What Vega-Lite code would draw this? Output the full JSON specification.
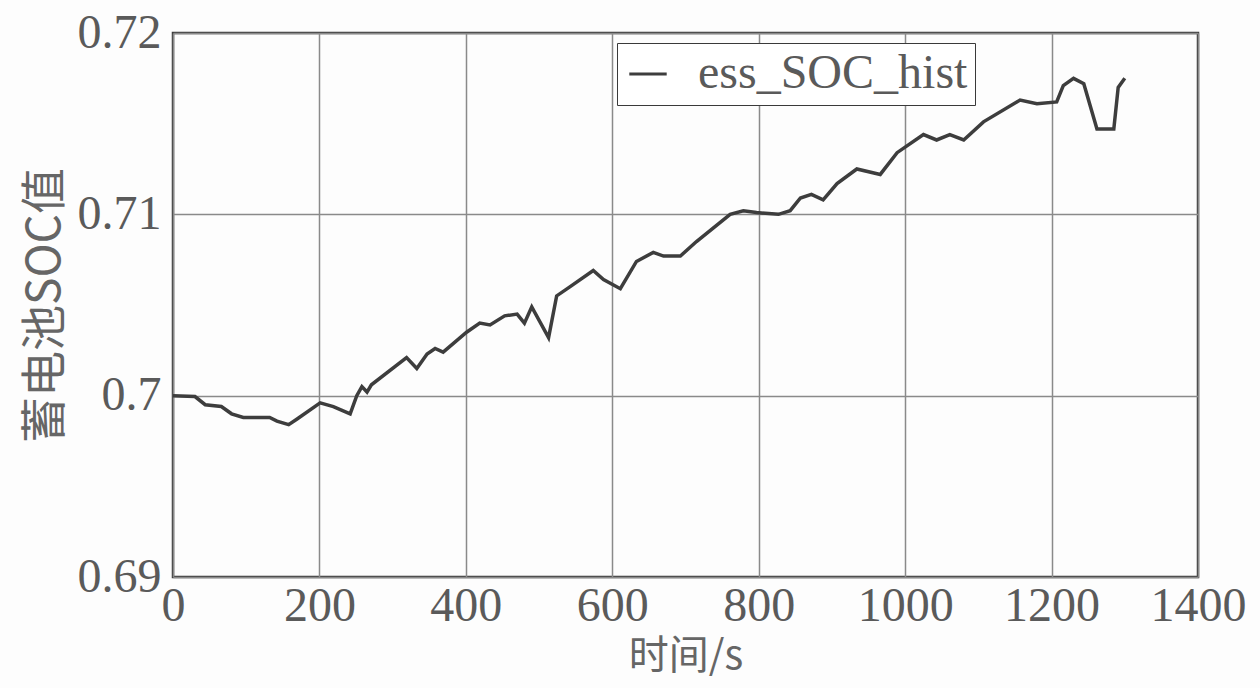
{
  "$schema": "https://vega.github.io/schema/vega-lite/v6.json",
  "width": 1025,
  "height": 544,
  "autosize": {"type": "none"},
  "padding": {"left": 173, "top": 33, "right": 62, "bottom": 111},
  "background": "#fdfdfd",
  "config": {
    "view": {"stroke": "#3a3a3a", "strokeWidth": 2.5},
    "axis": {
      "grid": true,
      "gridColor": "#8a8a8a",
      "gridWidth": 1.5,
      "domain": false,
      "ticks": false,
      "labelFont": "Liberation Serif",
      "labelFontSize": 48,
      "labelColor": "#5a5a5a",
      "titleFont": "Noto Sans CJK SC",
      "titleFontSize": 44,
      "titleFontWeight": "normal",
      "titleColor": "#666666"
    }
  },
  "data": {
    "values": [
      {"t": 0, "v": 0.7000, "s": "ess_SOC_hist"},
      {"t": 30, "v": 0.69995, "s": "ess_SOC_hist"},
      {"t": 44, "v": 0.6995, "s": "ess_SOC_hist"},
      {"t": 66, "v": 0.6994, "s": "ess_SOC_hist"},
      {"t": 80, "v": 0.6990, "s": "ess_SOC_hist"},
      {"t": 96, "v": 0.6988, "s": "ess_SOC_hist"},
      {"t": 132, "v": 0.6988, "s": "ess_SOC_hist"},
      {"t": 142, "v": 0.6986, "s": "ess_SOC_hist"},
      {"t": 158, "v": 0.6984, "s": "ess_SOC_hist"},
      {"t": 169, "v": 0.6987, "s": "ess_SOC_hist"},
      {"t": 201, "v": 0.6996, "s": "ess_SOC_hist"},
      {"t": 219, "v": 0.6994, "s": "ess_SOC_hist"},
      {"t": 242, "v": 0.6990, "s": "ess_SOC_hist"},
      {"t": 251, "v": 0.7000, "s": "ess_SOC_hist"},
      {"t": 258, "v": 0.7005, "s": "ess_SOC_hist"},
      {"t": 265, "v": 0.7002, "s": "ess_SOC_hist"},
      {"t": 271, "v": 0.7006, "s": "ess_SOC_hist"},
      {"t": 319, "v": 0.7021, "s": "ess_SOC_hist"},
      {"t": 333, "v": 0.7015, "s": "ess_SOC_hist"},
      {"t": 347, "v": 0.7023, "s": "ess_SOC_hist"},
      {"t": 358, "v": 0.7026, "s": "ess_SOC_hist"},
      {"t": 369, "v": 0.7024, "s": "ess_SOC_hist"},
      {"t": 401, "v": 0.7035, "s": "ess_SOC_hist"},
      {"t": 419, "v": 0.7040, "s": "ess_SOC_hist"},
      {"t": 433, "v": 0.7039, "s": "ess_SOC_hist"},
      {"t": 453, "v": 0.7044, "s": "ess_SOC_hist"},
      {"t": 470, "v": 0.7045, "s": "ess_SOC_hist"},
      {"t": 480, "v": 0.7040, "s": "ess_SOC_hist"},
      {"t": 490, "v": 0.7049, "s": "ess_SOC_hist"},
      {"t": 513, "v": 0.7032, "s": "ess_SOC_hist"},
      {"t": 524, "v": 0.7055, "s": "ess_SOC_hist"},
      {"t": 542, "v": 0.7060, "s": "ess_SOC_hist"},
      {"t": 574, "v": 0.7069, "s": "ess_SOC_hist"},
      {"t": 588, "v": 0.7064, "s": "ess_SOC_hist"},
      {"t": 611, "v": 0.7059, "s": "ess_SOC_hist"},
      {"t": 633, "v": 0.7074, "s": "ess_SOC_hist"},
      {"t": 656, "v": 0.7079, "s": "ess_SOC_hist"},
      {"t": 670, "v": 0.7077, "s": "ess_SOC_hist"},
      {"t": 693, "v": 0.7077, "s": "ess_SOC_hist"},
      {"t": 715, "v": 0.7085, "s": "ess_SOC_hist"},
      {"t": 761, "v": 0.7100, "s": "ess_SOC_hist"},
      {"t": 779, "v": 0.7102, "s": "ess_SOC_hist"},
      {"t": 797, "v": 0.7101, "s": "ess_SOC_hist"},
      {"t": 827, "v": 0.7100, "s": "ess_SOC_hist"},
      {"t": 843, "v": 0.7102, "s": "ess_SOC_hist"},
      {"t": 857, "v": 0.7109, "s": "ess_SOC_hist"},
      {"t": 872, "v": 0.7111, "s": "ess_SOC_hist"},
      {"t": 888, "v": 0.7108, "s": "ess_SOC_hist"},
      {"t": 907, "v": 0.7117, "s": "ess_SOC_hist"},
      {"t": 934, "v": 0.7125, "s": "ess_SOC_hist"},
      {"t": 966, "v": 0.7122, "s": "ess_SOC_hist"},
      {"t": 989, "v": 0.7134, "s": "ess_SOC_hist"},
      {"t": 1025, "v": 0.7144, "s": "ess_SOC_hist"},
      {"t": 1043, "v": 0.7141, "s": "ess_SOC_hist"},
      {"t": 1061, "v": 0.7144, "s": "ess_SOC_hist"},
      {"t": 1080, "v": 0.7141, "s": "ess_SOC_hist"},
      {"t": 1107, "v": 0.7151, "s": "ess_SOC_hist"},
      {"t": 1157, "v": 0.7163, "s": "ess_SOC_hist"},
      {"t": 1180, "v": 0.7161, "s": "ess_SOC_hist"},
      {"t": 1207, "v": 0.7162, "s": "ess_SOC_hist"},
      {"t": 1216, "v": 0.7171, "s": "ess_SOC_hist"},
      {"t": 1230, "v": 0.7175, "s": "ess_SOC_hist"},
      {"t": 1244, "v": 0.7172, "s": "ess_SOC_hist"},
      {"t": 1262, "v": 0.7147, "s": "ess_SOC_hist"},
      {"t": 1285, "v": 0.7147, "s": "ess_SOC_hist"},
      {"t": 1291, "v": 0.7170, "s": "ess_SOC_hist"},
      {"t": 1300, "v": 0.7175, "s": "ess_SOC_hist"}
    ]
  },
  "mark": {"type": "line", "strokeWidth": 3.5, "interpolate": "linear"},
  "encoding": {
    "x": {
      "field": "t",
      "type": "quantitative",
      "scale": {"domain": [0, 1400], "nice": false},
      "axis": {"values": [0, 200, 400, 600, 800, 1000, 1200, 1400], "format": "d", "labelFlush": false, "labelOverlap": false, "title": "时间/s", "titleFontSize": 40, "labelPadding": 5, "titlePadding": 6}
    },
    "y": {
      "field": "v",
      "type": "quantitative",
      "scale": {"domain": [0.69, 0.72], "nice": false, "zero": false},
      "axis": {"values": [0.69, 0.7, 0.71, 0.72], "format": ".2~f", "labelFlush": false, "labelOverlap": false, "title": "蓄电池SOC值", "titleFontSize": 46, "labelPadding": 12, "titlePadding": 8}
    },
    "color": {
      "field": "s",
      "type": "nominal",
      "scale": {"range": ["#3d3d3d"]},
      "legend": {
        "title": null,
        "orient": "none",
        "legendX": 444,
        "legendY": 10,
        "symbolType": "stroke",
        "symbolStrokeWidth": 3,
        "symbolSize": 1400,
        "labelFont": "Liberation Serif",
        "labelFontSize": 48,
        "labelColor": "#5a5a5a",
        "labelOffset": 26,
        "strokeColor": "#3a3a3a",
        "fillColor": "#ffffff",
        "padding": 7,
        "labelLimit": 400
      }
    }
  }
}
